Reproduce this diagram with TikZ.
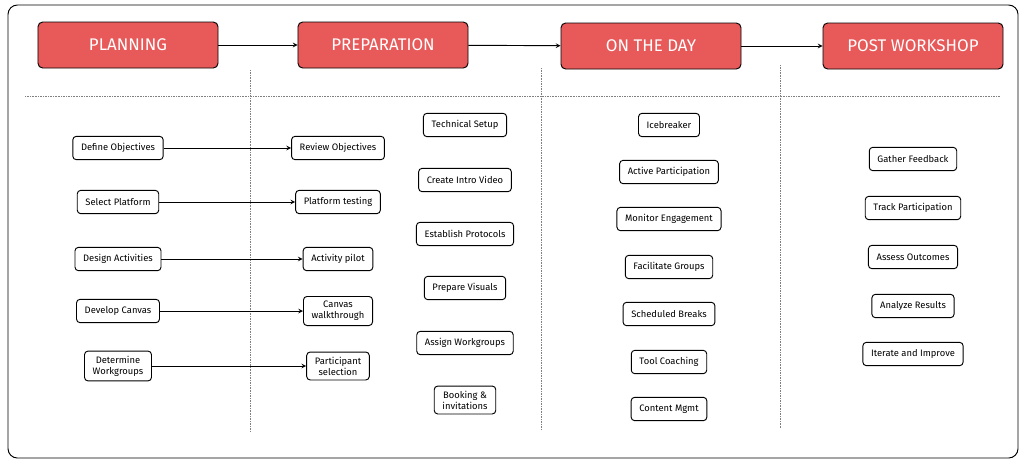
\documentclass[tikz,border=0pt]{standalone}
\usepackage{fontspec}
\setmainfont{Fira Sans}
\usetikzlibrary{positioning}
\definecolor{headred}{HTML}{E85A5A}
\tikzset{
  head/.style={draw=black, thick, fill=headred, rounded corners=4pt, minimum width=5.4cm, minimum height=1.38cm, text=white, font=\Large},
  task/.style={draw=black, thick, fill=white, rounded corners=3pt, font=\footnotesize, align=center, inner xsep=7pt, inner ysep=4pt, minimum height=0.7cm},
  link/.style={->, thick, >=stealth},
  sep/.style={densely dotted, gray}
}
\begin{document}
\begin{tikzpicture}[x=0.03cm, y=-0.03cm]
  \useasboundingbox (0,0) rectangle (1024,463);
  % frame
  \draw[thick, rounded corners=8pt] (8,5) rectangle (1018,458);

  % Headers
  \node[head] (plan) at (128,45) {PLANNING};
  \node[head, minimum width=5.1cm] (prep) at (383,45) {PREPARATION};
  \node[head] (day) at (651,46) {ON THE DAY};
  \node[head] (post) at (913,46) {POST WORKSHOP};
  \draw[link] (plan) -- (prep);
  \draw[link] (prep) -- (day);
  \draw[link] (day) -- (post);

  % Separators
  \draw[sep] (25,96) -- (1000,96);
  \draw[sep] (250,70) -- (250,432);
  \draw[sep] (541,68) -- (541,430);
  \draw[sep] (780,65) -- (780,428);

  % Planning
  \node[task] (p1) at (118,148) {Define Objectives};
  \node[task] (p2) at (118,202) {Select Platform};
  \node[task] (p3) at (118,259) {Design Activities};
  \node[task] (p4) at (118,311) {Develop Canvas};
  \node[task] (p5) at (118,366) {Determine\\Workgroups};

  % Preparation, left
  \node[task] (r1) at (338,148) {Review Objectives};
  \node[task] (r2) at (338,202) {Platform testing};
  \node[task] (r3) at (338,259) {Activity pilot};
  \node[task] (r4) at (338,311) {Canvas\\walkthrough};
  \node[task] (r5) at (338,366) {Participant\\selection};
  \foreach \i in {1,...,5}
    \draw[link] (p\i) -- (r\i);

  % Preparation, right
  \node[task] (s1) at (465,125) {Technical Setup};
  \node[task] (s2) at (465,180) {Create Intro Video};
  \node[task] (s3) at (465,234) {Establish Protocols};
  \node[task] (s4) at (465,288) {Prepare Visuals};
  \node[task] (s5) at (465,343) {Assign Workgroups};
  \node[task] (s6) at (465,400) {Booking \&\\invitations};

  % On the day
  \node[task] (d1) at (669,125) {Icebreaker};
  \node[task] (d2) at (669,172) {Active Participation};
  \node[task] (d3) at (669,219) {Monitor Engagement};
  \node[task] (d4) at (669,267) {Facilitate Groups};
  \node[task] (d5) at (669,314) {Scheduled Breaks};
  \node[task] (d6) at (669,362) {Tool Coaching};
  \node[task] (d7) at (669,409) {Content Mgmt};

  % Post workshop
  \node[task] (w1) at (913,159) {Gather Feedback};
  \node[task] (w2) at (913,208) {Track Participation};
  \node[task] (w3) at (913,257) {Assess Outcomes};
  \node[task] (w4) at (913,306) {Analyze Results};
  \node[task] (w5) at (913,354) {Iterate and Improve};
\end{tikzpicture}
\end{document}
